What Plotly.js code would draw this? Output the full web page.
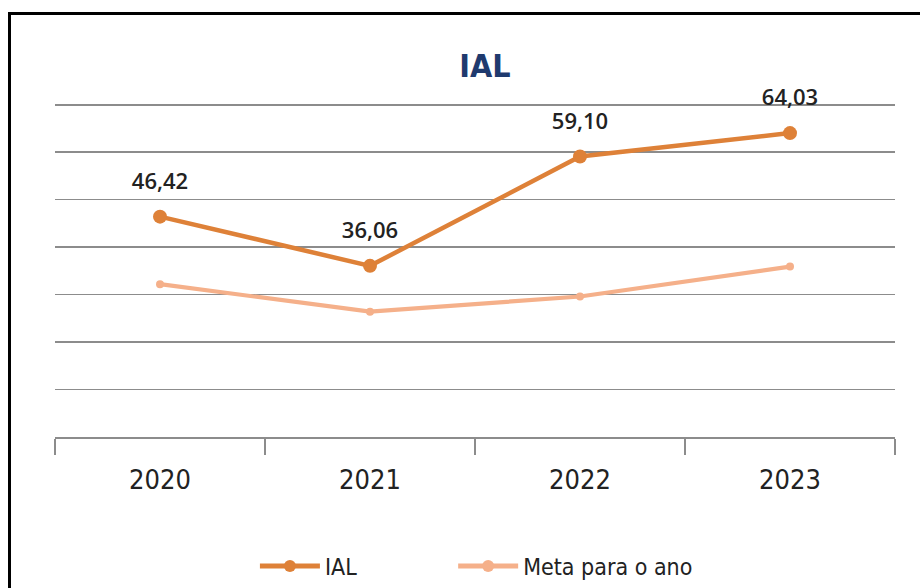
<!DOCTYPE html>
<html><head><meta charset="utf-8">
<script src="https://cdn.plot.ly/plotly-3.0.1.min.js"></script>
<style>
html,body{margin:0;padding:0;background:#fff;overflow:hidden;}
#frame{position:absolute;left:8px;top:12px;width:940px;height:600px;border:3px solid #000;box-sizing:border-box;pointer-events:none;z-index:5;}
#chart{position:absolute;left:0;top:0;width:920px;height:588px;}
</style></head>
<body>
<div id="chart"></div>
<div id="frame"></div>
<script>
const years = ["2020", "2021", "2022", "2023"];
const ialValues = [46.42, 36.06, 59.10, 64.03];
const ialLabels = ["46,42", "36,06", "59,10", "64,03"];
const metaValues = [32.2, 26.4, 29.6, 35.9];

const narrow = "DejaVu Sans Condensed, Liberation Sans Narrow, sans-serif";

const traces = [
  {
    x: years, y: ialValues, name: "IAL", type: "scatter", mode: "lines+markers",
    line: {color: "#DE8138", width: 4.5},
    marker: {color: "#DE8138", size: 14},
    cliponaxis: false, legend: "legend"
  },
  {
    x: years, y: metaValues, name: "Meta para o ano", type: "scatter", mode: "lines+markers",
    line: {color: "#F5B08A", width: 4.2},
    marker: {color: "#F5B08A", size: 8},
    cliponaxis: false, legend: "legend2"
  },
  {
    x: years, y: ialValues, type: "scatter", mode: "markers+text", showlegend: false,
    marker: {size: 34, color: "rgba(0,0,0,0)"},
    text: ialLabels, textposition: "top center",
    textfont: {family: "Open Sans, Noto Sans, sans-serif", size: 22, color: "#222", weight: 600},
    cliponaxis: false, hoverinfo: "skip"
  }
];

const legendStyle = {
  orientation: "h", xanchor: "left", y: -0.383, yanchor: "middle",
  font: {family: narrow, size: 23, color: "#222"},
  itemwidth: 60, itemsizing: "constant", bgcolor: "rgba(0,0,0,0)"
};

const layout = {
  width: 920, height: 588,
  margin: {l: 55, r: 25, t: 100, b: 151, autoexpand: false},
  paper_bgcolor: "#fff", plot_bgcolor: "#fff",
  title: {text: "<b>IAL</b>", x: 0.527, xanchor: "center", y: 0.888, yanchor: "middle",
    font: {family: narrow, size: 32, color: "#1F3A6E"}},
  xaxis: {
    type: "category", range: [-0.5, 3.5], automargin: false,
    showgrid: false, showline: true, linecolor: "#8c8c8c", linewidth: 1.5,
    ticks: "outside", ticklen: 16, tickcolor: "#8c8c8c", tickwidth: 1.5,
    tickson: "boundaries",
    tickfont: {family: narrow, size: 27, color: "#222"},
    ticklabelstandoff: 18
  },
  yaxis: {
    range: [0, 71], tickvals: [10, 20, 30, 40, 50, 60, 70], showticklabels: false, zeroline: false,
    showgrid: true, gridcolor: "#8c8c8c", gridwidth: 1.5, showline: false, automargin: false
  },
  showlegend: true,
  legend: Object.assign({}, legendStyle, {x: 0.238}),
  legend2: Object.assign({}, legendStyle, {x: 0.474})
};

Plotly.newPlot("chart", traces, layout, {displayModeBar: false, staticPlot: true});
</script>
</body></html>
